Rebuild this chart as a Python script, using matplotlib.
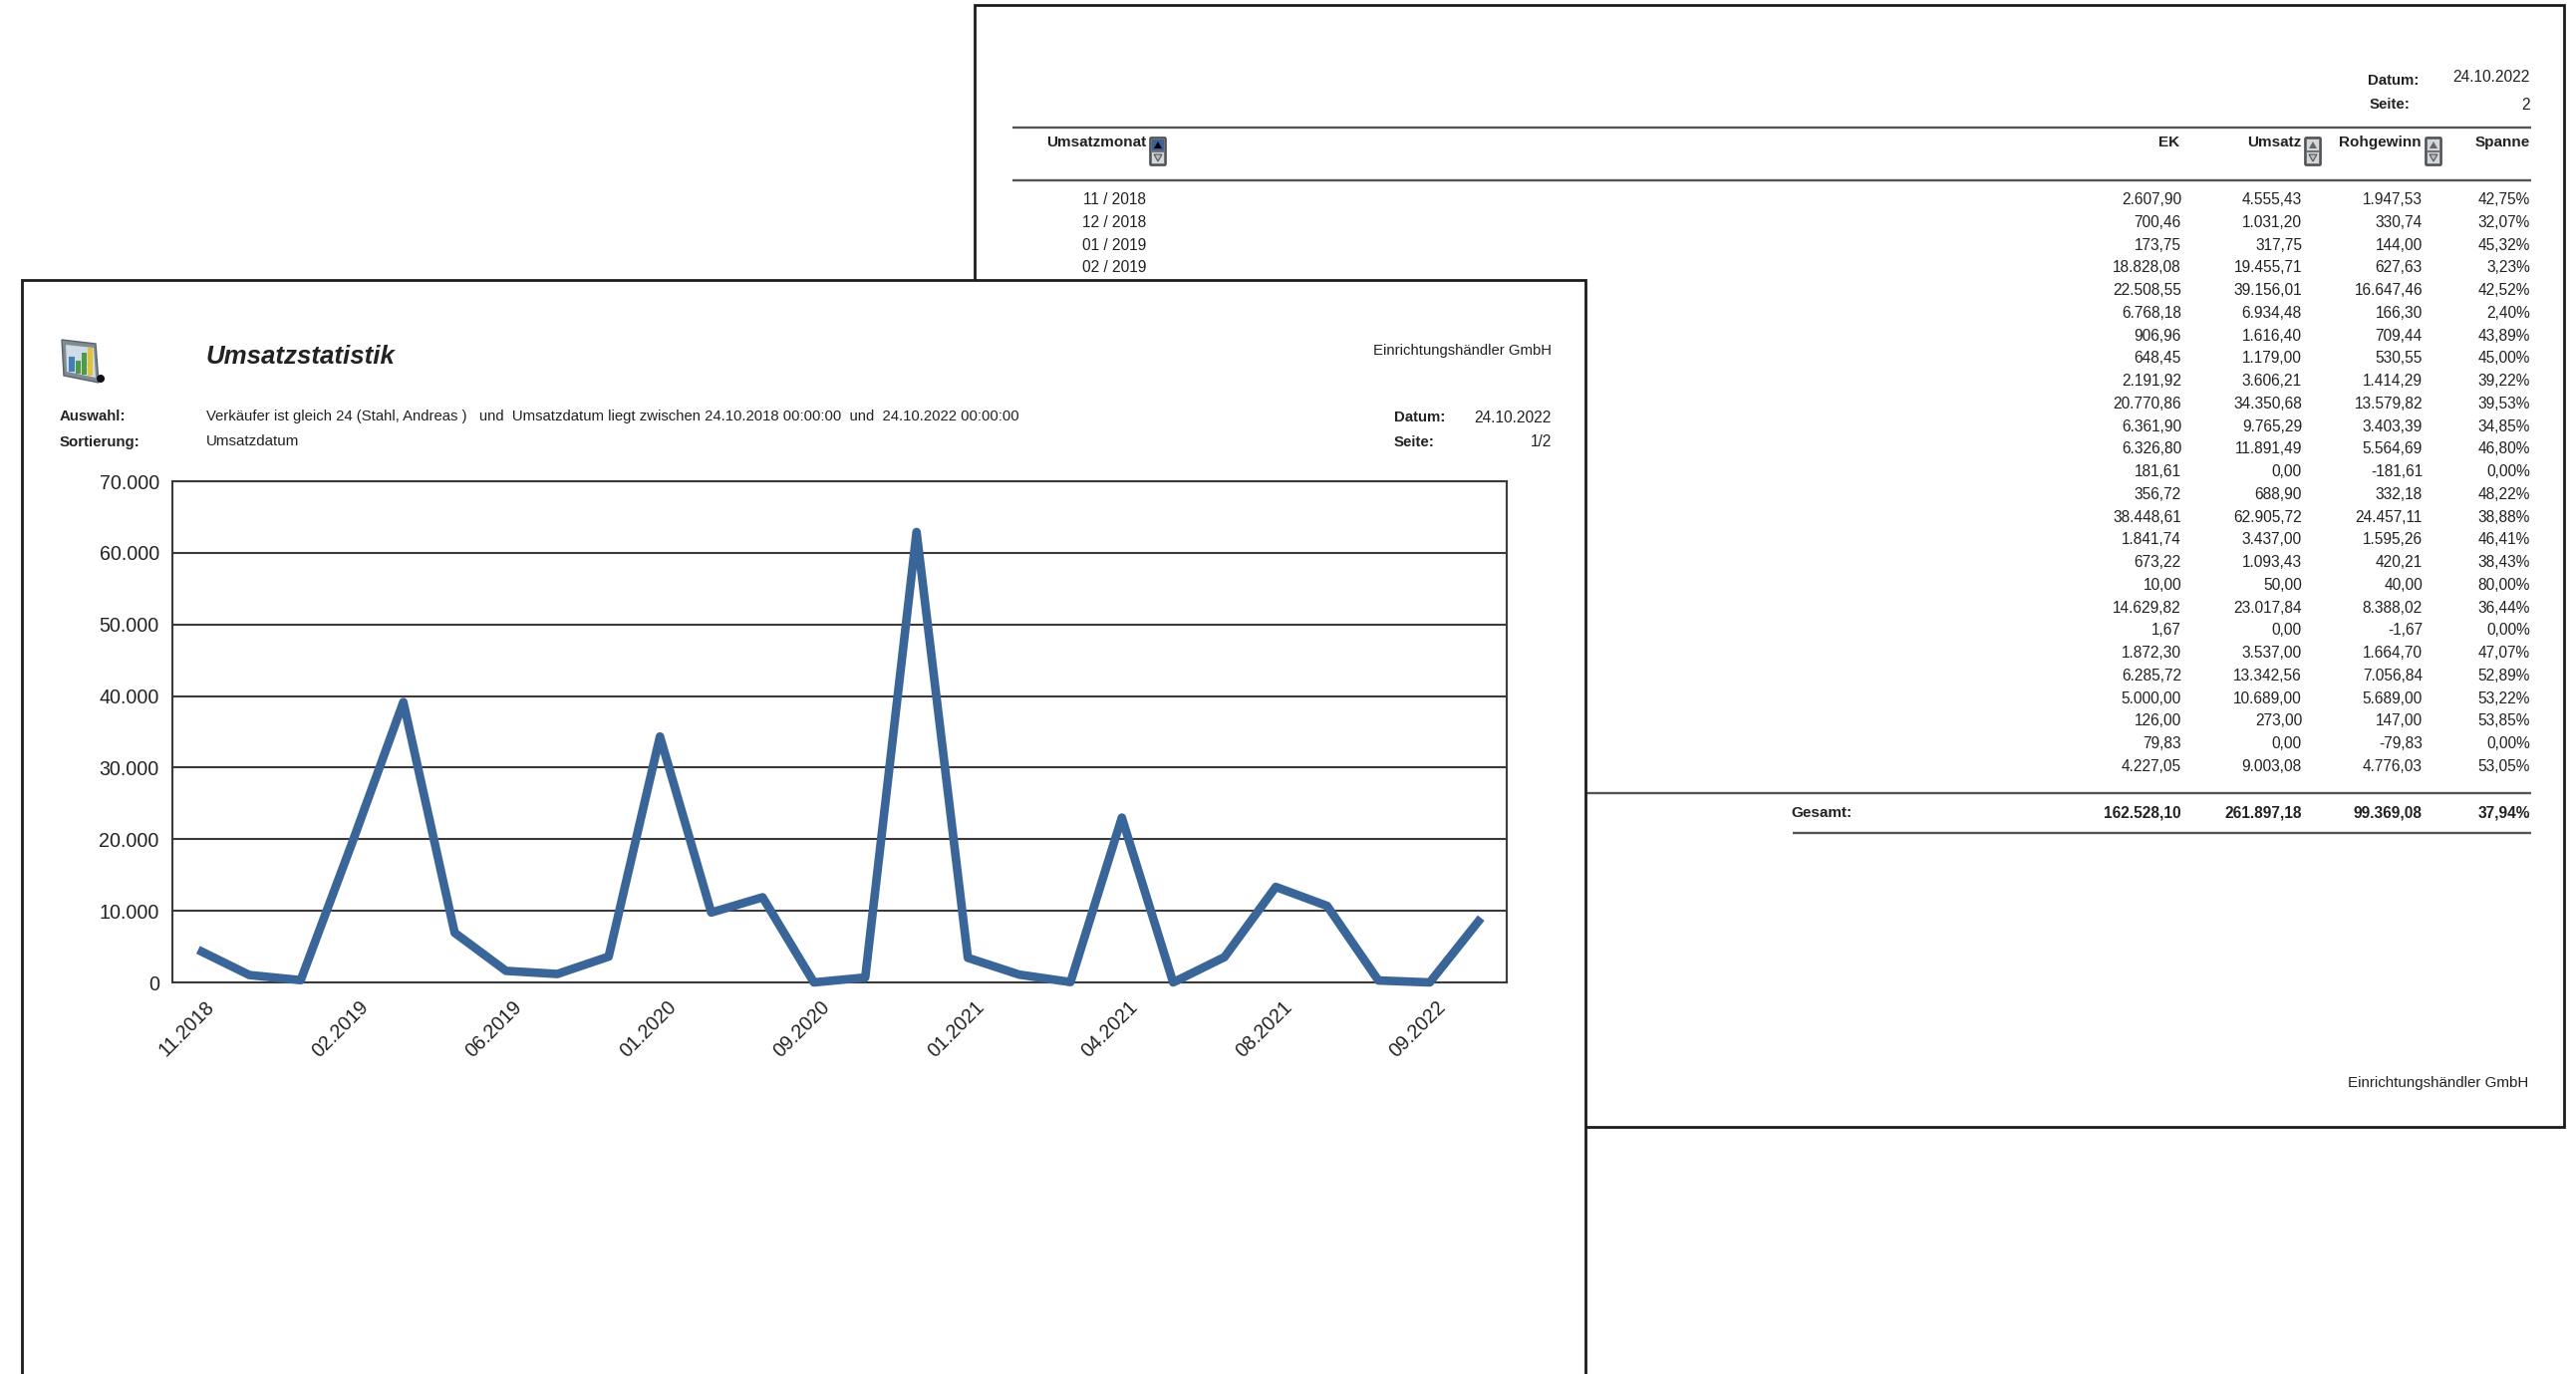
import matplotlib
matplotlib.use('Agg')
import matplotlib.pyplot as plt
from matplotlib.patches import Rectangle, Polygon, Circle, FancyBboxPatch
from matplotlib.transforms import ScaledTranslation

W, H = 2585, 1379
plt.rcParams['font.family'] = ['Liberation Sans', 'DejaVu Sans']

# Werte aus der Tabelle (Seite 2)
months = ['11 / 2018', '12 / 2018', '01 / 2019', '02 / 2019']
ek = ['2.607,90', '700,46', '173,75', '18.828,08', '22.508,55', '6.768,18', '906,96', '648,45',
      '2.191,92', '20.770,86', '6.361,90', '6.326,80', '181,61', '356,72', '38.448,61', '1.841,74',
      '673,22', '10,00', '14.629,82', '1,67', '1.872,30', '6.285,72', '5.000,00', '126,00', '79,83',
      '4.227,05']
umsatz_txt = ['4.555,43', '1.031,20', '317,75', '19.455,71', '39.156,01', '6.934,48', '1.616,40',
              '1.179,00', '3.606,21', '34.350,68', '9.765,29', '11.891,49', '0,00', '688,90',
              '62.905,72', '3.437,00', '1.093,43', '50,00', '23.017,84', '0,00', '3.537,00',
              '13.342,56', '10.689,00', '273,00', '0,00', '9.003,08']
rohgewinn = ['1.947,53', '330,74', '144,00', '627,63', '16.647,46', '166,30', '709,44', '530,55',
             '1.414,29', '13.579,82', '3.403,39', '5.564,69', '-181,61', '332,18', '24.457,11',
             '1.595,26', '420,21', '40,00', '8.388,02', '-1,67', '1.664,70', '7.056,84', '5.689,00',
             '147,00', '-79,83', '4.776,03']
spanne = ['42,75%', '32,07%', '45,32%', '3,23%', '42,52%', '2,40%', '43,89%', '45,00%', '39,22%',
          '39,53%', '34,85%', '46,80%', '0,00%', '48,22%', '38,88%', '46,41%', '38,43%', '80,00%',
          '36,44%', '0,00%', '47,07%', '52,89%', '53,22%', '53,85%', '0,00%', '53,05%']
totals = ['162.528,10', '261.897,18', '99.369,08', '37,94%']

# Chart-Daten (Seite 1)
umsatz = [4555.43, 1031.20, 317.75, 19455.71, 39156.01, 6934.48, 1616.40, 1179.00, 3606.21,
          34350.68, 9765.29, 11891.49, 0.00, 688.90, 62905.72, 3437.00, 1093.43, 50.00,
          23017.84, 0.00, 3537.00, 13342.56, 10689.00, 273.00, 0.00, 9003.08]
x_labels = ['11.2018', '02.2019', '06.2019', '01.2020', '09.2020', '01.2021', '04.2021',
            '08.2021', '09.2022']
y_ticks = [0, 10000, 20000, 30000, 40000, 50000, 60000, 70000]
y_labels = ['0', '10.000', '20.000', '30.000', '40.000', '50.000', '60.000', '70.000']

TXT = '#222222'
EDGE = '#1c1c1c'
RULE = '#555555'
LINE = '#3a6599'

fig = plt.figure(figsize=(W / 100, H / 100), dpi=100, facecolor='white')

# Hilfsachse in Pixelkoordinaten fuer die Seiten
bg = fig.add_axes([0, 0, 1, 1])
bg.set_xlim(0, W)
bg.set_ylim(H, 0)
bg.axis('off')


def put(x, y, s, size=11.2, ha='left', weight='normal', style='normal', z=3):
    return bg.text(x, y, s, fontsize=size, ha=ha, va='center', color=TXT,
                   fontweight=weight, fontstyle=style, zorder=z)


def rule(x0, x1, y, lw=1.7, z=2):
    bg.plot([x0, x1], [y, y], color=RULE, lw=lw, zorder=z, solid_capstyle='butt')


def sort_icon(x, y, active=False):
    # kleiner Sortierknopf im Tabellenkopf
    bg.add_patch(FancyBboxPatch((x, y), 16, 28, boxstyle='round,pad=0,rounding_size=1.5',
                                fc='#6f7379', ec='#4a4d52', lw=1.2, zorder=3))
    top = '#3f5f92' if active else '#d4d7da'
    bg.add_patch(Rectangle((x + 2, y + 2), 12, 11, fc=top, ec='none', zorder=4))
    bg.add_patch(Rectangle((x + 2, y + 15), 12, 11, fc='#d4d7da', ec='none', zorder=4))
    tri = '#000000' if active else '#666666'
    bg.add_patch(Polygon([(x + 4, y + 11), (x + 12, y + 11), (x + 8, y + 4)], fc=tri, ec='none', zorder=5))
    bg.add_patch(Polygon([(x + 4, y + 17), (x + 12, y + 17), (x + 8, y + 24)], fc='#bbbbbb',
                         ec='#555555', lw=0.8, zorder=5))


# --- Seite 2 (hinten) ---
bg.add_patch(Rectangle((978, 5), 1595, 1126, fc='white', ec=EDGE, lw=2, zorder=1))
put(2376, 81, 'Datum:', weight='bold', size=10.8)
put(2378, 105, 'Seite:', weight='bold', size=10.8)
put(2539, 78, '24.10.2022', ha='right')
put(2539, 105, '2', ha='right')

rule(1016, 2540, 128)
rule(1016, 2540, 181)
put(1150, 143, 'Umsatzmonat', ha='right', weight='bold', size=11)
put(2187, 143, 'EK', ha='right', weight='bold', size=11)
put(2309, 143, 'Umsatz', ha='right', weight='bold', size=11)
put(2430, 143, 'Rohgewinn', ha='right', weight='bold', size=11)
put(2539, 143, 'Spanne', ha='right', weight='bold', size=11)
sort_icon(1154, 138, active=True)
sort_icon(2313, 138)
sort_icon(2434, 138)

row_y0, row_dy = 200.5, 22.76
for i, m in enumerate(months):
    put(1150, row_y0 + i * row_dy, m, ha='right')
for i in range(len(ek)):
    y = row_y0 + i * row_dy
    put(2189, y, ek[i], ha='right')
    put(2310, y, umsatz_txt[i], ha='right')
    put(2431, y, rohgewinn[i], ha='right')
    put(2539, y, spanne[i], ha='right')

rule(1592, 2540, 796)
rule(1799, 2540, 836)
put(1797, 816, 'Gesamt:', weight='bold', size=11)
for xr, t in zip([2189, 2310, 2431, 2539], totals):
    put(xr, 816, t, ha='right', weight='bold')
put(2537, 1087, 'Einrichtungshändler GmbH', ha='right', size=10.9)

# --- Seite 1 (vorne) ---
bg.add_patch(Rectangle((22, 281), 1569, 1200, fc='white', ec=EDGE, lw=2, zorder=6))


def front(x, y, s, **kw):
    return put(x, y, s, z=7, **kw)


# Statistik-Symbol
bg.add_patch(Polygon([(62, 341), (96, 345), (99, 384), (64, 377)], fc='#7f8a92', ec='#5a636a', lw=1, zorder=7))
bg.add_patch(Polygon([(66, 346), (94, 349), (96, 379), (67, 373)], fc='#cfdbe6', ec='none', zorder=7))
bg.add_patch(Rectangle((69, 358), 6, 15, fc='#3f7fb5', ec='none', zorder=8))
bg.add_patch(Rectangle((76, 362), 5, 13, fc='#4f9a45', ec='none', zorder=8))
bg.add_patch(Rectangle((82, 354), 5, 22, fc='#4f9a45', ec='none', zorder=8))
bg.add_patch(Rectangle((88, 349), 5, 28, fc='#e3c23a', ec='none', zorder=8))
bg.add_patch(Circle((101, 380), 4, fc='#111111', ec='none', zorder=8))

front(207, 358, 'Umsatzstatistik', size=18.6, weight='bold', style='italic')
front(1557, 352, 'Einrichtungshändler GmbH', ha='right', size=10.7)
front(60, 418, 'Auswahl:', weight='bold', size=10.8)
front(60, 444, 'Sortierung:', weight='bold', size=10.8)
front(207, 418, 'Verkäufer ist gleich 24 (Stahl, Andreas )   und  Umsatzdatum liegt zwischen '
                '24.10.2018 00:00:00  und  24.10.2022 00:00:00', size=10.75)
front(207, 443, 'Umsatzdatum', size=10.9)
front(1399, 419, 'Datum:', weight='bold', size=10.8)
front(1399, 444, 'Seite:', weight='bold', size=10.8)
front(1557, 419, '24.10.2022', ha='right')
front(1557, 444, '1/2', ha='right')

# --- Liniendiagramm ---
left, right, top, bottom = 173, 1512, 483, 986
ax = fig.add_axes([left / W, 1 - bottom / H, (right - left) / W, (bottom - top) / H], zorder=5)
ax.patch.set_alpha(0)
pos = list(range(len(umsatz)))
ax.plot(pos, umsatz, color=LINE, lw=6.2, solid_joinstyle='round', solid_capstyle='butt',
        clip_on=False, zorder=4)
ax.set_xlim(-0.5, len(umsatz) - 0.5)
ax.set_ylim(0, 70000)
ax.set_yticks(y_ticks)
ax.set_yticklabels(y_labels, fontsize=14.1, color=TXT)
ax.set_xticks(pos[::3])
ax.set_xticklabels(x_labels, fontsize=14.1, color=TXT, rotation=45, ha='right', rotation_mode='anchor')
ax.tick_params(axis='both', length=0)
ax.tick_params(axis='y', pad=9.5)
ax.tick_params(axis='x', pad=11)
# Datumslabels etwas nach rechts schieben
shift = ScaledTranslation(6.5 / 100, 0, fig.dpi_scale_trans)
for lab in ax.get_xticklabels():
    lab.set_transform(lab.get_transform() + shift)
ax.grid(axis='y', color='#3a3a3a', lw=1.5)
ax.set_axisbelow(True)
for sp in ax.spines.values():
    sp.set_color('#3a3a3a')
    sp.set_linewidth(1.5)

fig.savefig('out.png', dpi=100)
